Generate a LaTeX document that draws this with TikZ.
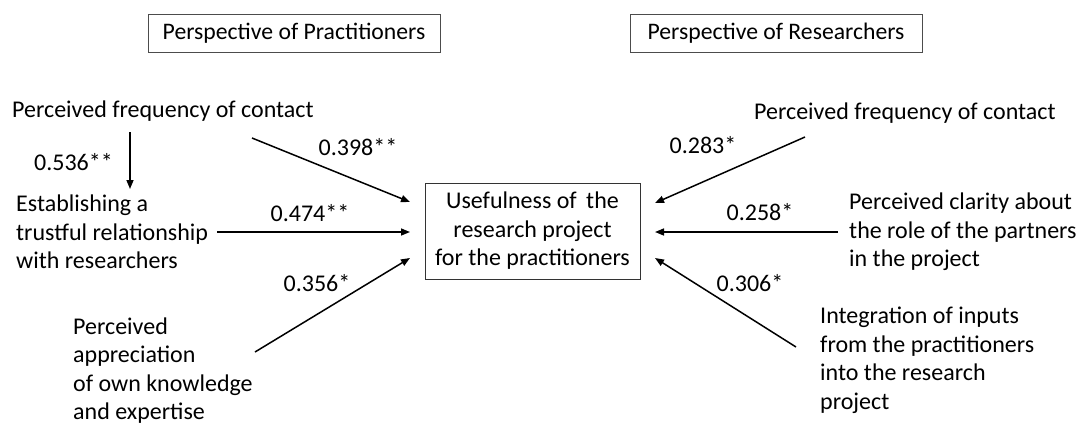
\documentclass[tikz,border=0pt]{standalone}
\usepackage{fontspec}
\setmainfont{Carlito}
\usetikzlibrary{arrows.meta}
\begin{document}
\begin{tikzpicture}[x=1pt,y=-1pt,
  txt/.style={inner sep=0pt,align=left,font=\fontsize{24}{28.5}\selectfont},
  lbl/.style={inner sep=0pt,font=\fontsize{24}{28.5}\selectfont},
  hdr/.style={draw=black!70,line width=1pt,minimum width=292pt,minimum height=38pt,inner sep=0pt,font=\fontsize{23.7}{28.5}\selectfont},
  arr/.style={line width=1.5pt,-{Triangle[length=9pt,width=7pt]}}]
\useasboundingbox (0,0) rectangle (1076,424);
% headers
\node[hdr] (hL) at (294,33) {Perspective of Practitioners};
\node[hdr] (hR) at (776,33) {Perspective of Researchers};
% center
\node[draw=black!80,line width=1pt,minimum width=215pt,minimum height=96pt,inner sep=0pt,align=center,font=\fontsize{24}{28.5}\selectfont] (use) at (532.5,231) {Usefulness of\, the\\research project\\for the practitioners};
% left nodes
\node[txt,anchor=west] (pfcL) at (12,111) {Perceived frequency of contact};
\node[txt,anchor=west] (trust) at (16,232) {Establishing a\\trustful relationship\\with researchers};
\node[txt,anchor=west] (appr) at (73,370.5) {Perceived\\appreciation\\of own knowledge\\and expertise};
% right nodes
\node[txt,anchor=west] (pfcR) at (754,113) {Perceived frequency of contact};
\node[txt,anchor=west] (clar) at (849,232) {Perceived clarity about\\the role of the partners\\in the project};
\node[txt,anchor=west] (integ) at (820,360.5) {Integration of inputs\\from the practitioners\\into the research\\project};
% connector end points
\coordinate (a1s) at (130,132); \coordinate (a1e) at (130,189);
\coordinate (a2s) at (252,138); \coordinate (a2e) at (410,202);
\coordinate (a3s) at (217,232); \coordinate (a3e) at (410,232);
\coordinate (a4s) at (255,352); \coordinate (a4e) at (410,258);
\coordinate (b1s) at (805,137); \coordinate (b1e) at (655,203);
\coordinate (b2s) at (838,232); \coordinate (b2e) at (655,232);
\coordinate (b3s) at (796,347); \coordinate (b3e) at (655,258);
\draw[arr] (a1s) -- (a1e);
\draw[arr] (a2s) -- (a2e);
\draw[arr] (a3s) -- (a3e);
\draw[arr] (a4s) -- (a4e);
\draw[arr] (b1s) -- (b1e);
\draw[arr] (b2s) -- (b2e);
\draw[arr] (b3s) -- (b3e);
% labels
\node[lbl] (l1) at (73.5,162) {0.536**};
\node[lbl] (l2) at (358,147) {0.398**};
\node[lbl] (l3) at (310,213) {0.474**};
\node[lbl] (l4) at (317,283) {0.356*};
\node[lbl] (l5) at (703,145) {0.283*};
\node[lbl] (l6) at (760,212) {0.258*};
\node[lbl] (l7) at (750,283) {0.306*};
\end{tikzpicture}
\end{document}
